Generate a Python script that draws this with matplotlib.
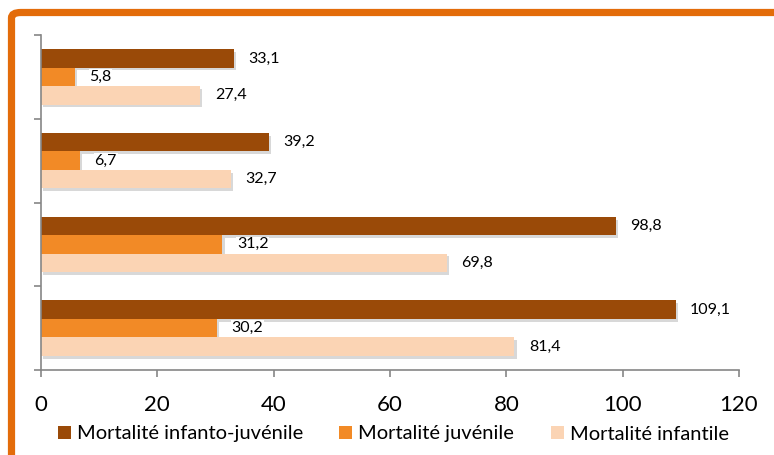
import matplotlib
matplotlib.use("Agg")
import matplotlib.pyplot as plt
import matplotlib.patheffects as pe
from matplotlib.patches import FancyBboxPatch, Patch
import numpy as np

plt.rcParams['font.family'] = ['Lato', 'DejaVu Sans']

# data, bottom group first
series_names = ['Mortalité infanto-juvénile', 'Mortalité juvénile', 'Mortalité infantile']
infanto_juvenile = [109.1, 98.8, 39.2, 33.1]
juvenile = [30.2, 31.2, 6.7, 5.8]
infantile = [81.4, 69.8, 32.7, 27.4]
x_ticks = [0, 20, 40, 60, 80, 100, 120]

colors = ['#9A4A08', '#F28A26', '#FBD4B4']
offsets = [0.22, 0.0, -0.22]
bar_h = 0.22

fig = plt.figure(figsize=(7.74, 4.55), dpi=100)
ax = fig.add_axes([41 / 774, 1 - 370 / 455, (739 - 41) / 774, (370 - 35) / 455])

y = np.arange(len(infanto_juvenile))
shadow = [pe.SimplePatchShadow(offset=(1.5, -2), alpha=0.3, shadow_rgbFace='#808080'), pe.Normal()]
for vals, col, off in zip([infanto_juvenile, juvenile, infantile], colors, offsets):
    bars = ax.barh(y + off, vals, height=bar_h, color=col, edgecolor='none')
    for b in bars:
        b.set_path_effects(shadow)
    for yi, v in zip(y, vals):
        ax.text(v + 2.5, yi + off, f"{v:.1f}".replace('.', ','), va='center', ha='left',
                fontsize=11.5, color='black',
                bbox=dict(facecolor='white', edgecolor='none', pad=0.5))

ax.set_xlim(0, 120)
ax.set_ylim(-0.5, len(y) - 0.5)
ax.set_xticks(x_ticks)
ax.set_xticklabels([str(t) for t in x_ticks], fontsize=16)
ax.set_yticks(np.arange(-0.5, len(y), 1.0))
ax.set_yticklabels([])
for s in ['top', 'right']:
    ax.spines[s].set_visible(False)
for s in ['left', 'bottom']:
    ax.spines[s].set_color('#868686')
    ax.spines[s].set_linewidth(1.2)
ax.tick_params(axis='both', colors='#868686', length=5, width=1.2)
ax.tick_params(axis='x', labelcolor='black', pad=13)

handles = [Patch(facecolor=c, edgecolor='none') for c in colors]
fig.legend(handles, series_names, loc='center', bbox_to_anchor=(0.508, 1 - 434 / 455),
           ncol=3, frameon=False, fontsize=14.5, handlelength=0.65, handleheight=0.65,
           handletextpad=0.3, columnspacing=1.8, borderaxespad=0)

# orange frame
frame = FancyBboxPatch((11.5 / 774, -0.2), 1.2, 1 - 12.5 / 455 + 0.2,
                       boxstyle='round,pad=0,rounding_size=0.012',
                       transform=fig.transFigure, facecolor='none',
                       edgecolor='#E36C0A', linewidth=5.2, clip_on=False)
fig.patches.append(frame)

fig.savefig('out.png', dpi=100)
